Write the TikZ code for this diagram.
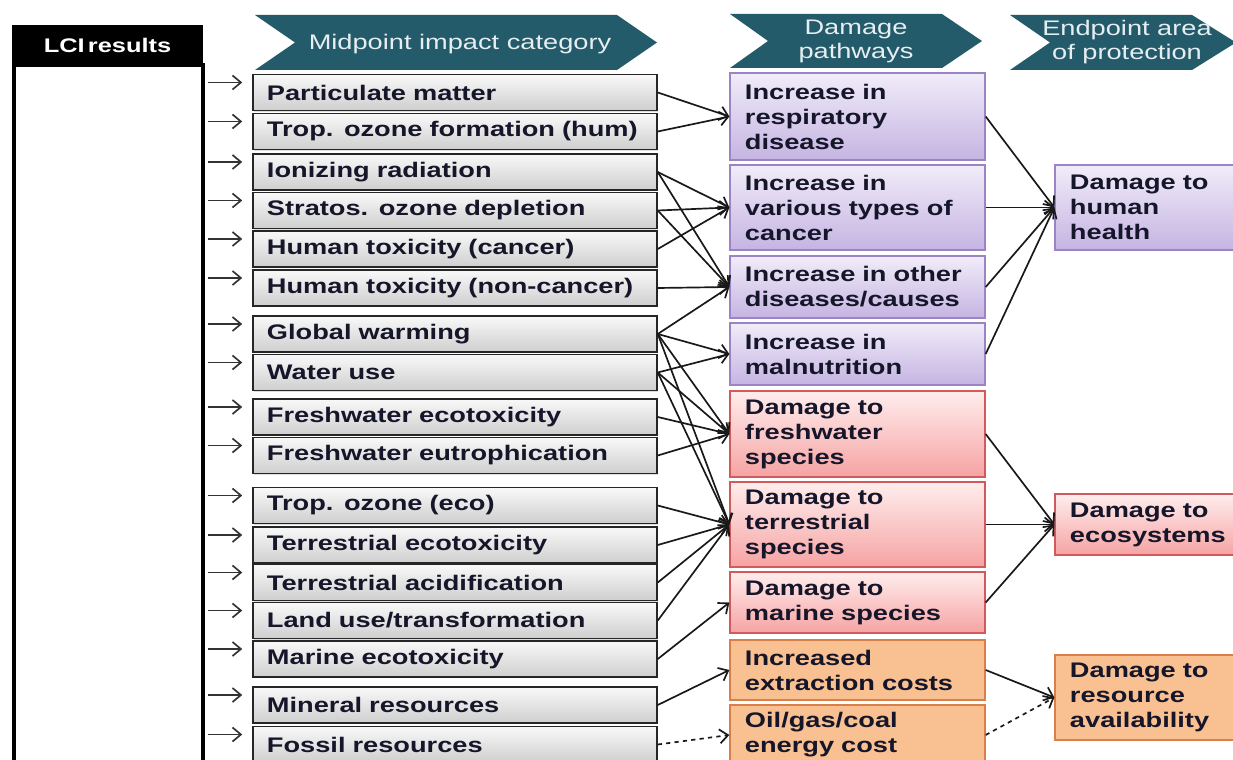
\documentclass[tikz,border=0pt]{standalone}
\usepackage{fontspec}
\setmainfont{Liberation Sans}[FakeStretch=1.29]
\usetikzlibrary{arrows.meta, calc, shadows}
\definecolor{chevfill}{HTML}{245B6B}
\definecolor{chevtext}{HTML}{E6EEF1}
\definecolor{boxtext}{HTML}{16162A}
\definecolor{purpletop}{HTML}{F1ECF9}
\definecolor{purplebot}{HTML}{C5B4E2}
\definecolor{purpleline}{HTML}{9A84C6}
\definecolor{redtop}{HTML}{FFEDED}
\definecolor{redbot}{HTML}{F6A3A3}
\definecolor{redline}{HTML}{D25A5A}
\definecolor{orangefill}{HTML}{F9C091}
\definecolor{orangeline}{HTML}{D9804A}

\begin{document}
\begin{tikzpicture}[x=0.025cm, y=-0.025cm,
  mid/.style={draw=black!85, line width=1pt, top color=gray!5, bottom color=gray!38, drop shadow={opacity=0.25, shadow xshift=1pt, shadow yshift=-1pt}, text width=9.4cm, inner xsep=0.35cm, minimum height=0.9cm, align=left, text=boxtext, font={\fontsize{15}{17.8}\selectfont\bfseries}},
  dmg/.style={line width=0.9pt, drop shadow={opacity=0.2, shadow xshift=1pt, shadow yshift=-1pt}, text width=5.625cm, inner xsep=0.375cm, align=left, text=boxtext, font={\fontsize{15}{17.8}\selectfont\bfseries}},
  hum/.style={dmg, draw=purpleline, top color=purpletop, bottom color=purplebot},
  eco/.style={dmg, draw=redline, top color=redtop, bottom color=redbot},
  res/.style={dmg, draw=orangeline, fill=orangefill},
  endp/.style={text width=3.95cm},
  head/.style={align=center, text=chevtext, font={\fontsize{15}{17}\selectfont}},
  rel/.style={-{Straight Barb[length=6pt, width=10pt]}, line width=1.2pt, draw=black!90},
  feed/.style={rel, draw=black!80}
]
\clip (0,0) rectangle (1233,760);
\fill[white] (0,0) rectangle (1233,760);

\node[fill=black, minimum width=4.775cm, minimum height=1cm, text=white, font={\fontsize{14}{14}\selectfont\bfseries}] (lcihead) at (107.5,45) {LCI\,results};
\node[draw=black, line width=3pt, fill=white, minimum width=4.725cm, minimum height=17.875cm] (lci) at (108.5,422.5) {};

\fill[chevfill] (255,15) -- (617,15) -- (657,42.5) -- (617,70) -- (255,70) -- (295,42.5) -- cycle;
\fill[chevfill] (730,14) -- (942,14) -- (982,41) -- (942,68) -- (730,68) -- (768,41) -- cycle;
\fill[chevfill] (1010,15) -- (1192,15) -- (1236,42.5) -- (1192,70) -- (1010,70) -- (1050,42.5) -- cycle;
\node[head] (hmid) at (460,44) {Midpoint impact category};
\node[head] (hdmg) at (856,41) {Damage\\pathways};
\node[head] (hend) at (1127,42) {Endpoint area\\of protection};

\node[mid] (pm) at (455,92.5) {Particulate matter};
\node[mid] (ozh) at (455,131.5) {Trop. ozone formation (hum)};
\node[mid] (ion) at (455,172) {Ionizing radiation};
\node[mid] (sod) at (455,210.5) {Stratos. ozone depletion};
\node[mid] (htc) at (455,249) {Human toxicity (cancer)};
\node[mid] (htn) at (455,288) {Human toxicity (non-cancer)};
\node[mid] (gw) at (455,334) {Global warming};
\node[mid] (wu) at (455,372.5) {Water use};
\node[mid] (fet) at (455,417) {Freshwater ecotoxicity};
\node[mid] (feu) at (455,455.5) {Freshwater eutrophication};
\node[mid] (oze) at (455,505.5) {Trop. ozone (eco)};
\node[mid] (tet) at (455,545) {Terrestrial ecotoxicity};
\node[mid] (tac) at (455,582.5) {Terrestrial acidification};
\node[mid] (lu) at (455,620.5) {Land use/transformation};
\node[mid] (met) at (455,659) {Marine ecotoxicity};
\node[mid] (mr) at (455,705) {Mineral resources};
\node[mid] (fr) at (455,744.5) {Fossil resources};

\node[hum, minimum height=2.175cm] (resp) at (857.5,116.5) {Increase in\\respiratory\\disease};
\node[hum, minimum height=2.125cm] (canc) at (857.5,207.5) {Increase in\\various types of\\cancer};
\node[hum, minimum height=1.55cm] (oth) at (857.5,287) {Increase in other\\diseases/causes};
\node[hum, minimum height=1.55cm] (maln) at (857.5,354) {Increase in\\malnutrition};
\node[eco, minimum height=2.15cm] (fws) at (857.5,434) {Damage to\\freshwater\\species};
\node[eco, minimum height=2.125cm] (trs) at (857.5,524.5) {Damage to\\terrestrial\\species};
\node[eco, minimum height=1.525cm] (mas) at (857.5,602.5) {Damage to\\marine species};
\node[res, minimum height=1.5cm] (extr) at (857.5,670) {Increased\\extraction costs};
\node[res, minimum height=1.5cm] (enc) at (857.5,735) {Oil/gas/coal\\energy cost};

\node[hum, endp, minimum height=2.125cm] (hh) at (1149,207.5) {Damage to\\human\\health};
\node[eco, endp, minimum height=1.525cm] (ecos) at (1149,524.5) {Damage to\\ecosystems};
\node[res, endp, minimum height=2.125cm] (ravail) at (1149,697.5) {Damage to\\resource\\availability};

\draw[feed] ($(lci.east |- pm)+(3,-10)$) -- ($(pm.west)+(-10,-10)$);
\draw[feed] ($(lci.east |- ozh)+(3,-10)$) -- ($(ozh.west)+(-10,-10)$);
\draw[feed] ($(lci.east |- ion)+(3,-10)$) -- ($(ion.west)+(-10,-10)$);
\draw[feed] ($(lci.east |- sod)+(3,-10)$) -- ($(sod.west)+(-10,-10)$);
\draw[feed] ($(lci.east |- htc)+(3,-10)$) -- ($(htc.west)+(-10,-10)$);
\draw[feed] ($(lci.east |- htn)+(3,-10)$) -- ($(htn.west)+(-10,-10)$);
\draw[feed] ($(lci.east |- gw)+(3,-10)$) -- ($(gw.west)+(-10,-10)$);
\draw[feed] ($(lci.east |- wu)+(3,-10)$) -- ($(wu.west)+(-10,-10)$);
\draw[feed] ($(lci.east |- fet)+(3,-10)$) -- ($(fet.west)+(-10,-10)$);
\draw[feed] ($(lci.east |- feu)+(3,-10)$) -- ($(feu.west)+(-10,-10)$);
\draw[feed] ($(lci.east |- oze)+(3,-10)$) -- ($(oze.west)+(-10,-10)$);
\draw[feed] ($(lci.east |- tet)+(3,-10)$) -- ($(tet.west)+(-10,-10)$);
\draw[feed] ($(lci.east |- tac)+(3,-10)$) -- ($(tac.west)+(-10,-10)$);
\draw[feed] ($(lci.east |- lu)+(3,-10)$) -- ($(lu.west)+(-10,-10)$);
\draw[feed] ($(lci.east |- met)+(3,-10)$) -- ($(met.west)+(-10,-10)$);
\draw[feed] ($(lci.east |- mr)+(3,-10)$) -- ($(mr.west)+(-10,-10)$);
\draw[feed] ($(lci.east |- fr)+(3,-10)$) -- ($(fr.west)+(-10,-10)$);

\draw[rel] (pm.east) -- (resp.west);
\draw[rel] (ozh.east) -- (resp.west);
\draw[rel] (ion.east) -- (canc.west);
\draw[rel] (ion.east) -- (oth.west);
\draw[rel] (sod.east) -- (canc.west);
\draw[rel] (sod.east) -- (oth.west);
\draw[rel] (htc.east) -- (canc.west);
\draw[rel] (htn.east) -- (oth.west);
\draw[rel] (gw.east) -- (oth.west);
\draw[rel] (gw.east) -- (maln.west);
\draw[rel] (gw.east) -- (fws.west);
\draw[rel] (gw.east) -- (trs.west);
\draw[rel] (wu.east) -- (maln.west);
\draw[rel] (wu.east) -- (fws.west);
\draw[rel] (wu.east) -- (trs.west);
\draw[rel] (fet.east) -- (fws.west);
\draw[rel] (feu.east) -- (fws.west);
\draw[rel] (oze.east) -- (trs.west);
\draw[rel] (tet.east) -- (trs.west);
\draw[rel] (tac.east) -- (trs.west);
\draw[rel] (lu.east) -- (trs.west);
\draw[rel] (met.east) -- (mas.west);
\draw[rel] (mr.east) -- (extr.west);
\draw[rel, dashed] (fr.east) -- (enc.west);

\draw[rel] (resp.east) -- (hh.west);
\draw[rel] (canc.east) -- (hh.west);
\draw[rel] (oth.east) -- (hh.west);
\draw[rel] (maln.east) -- (hh.west);
\draw[rel] (fws.east) -- (ecos.west);
\draw[rel] (trs.east) -- (ecos.west);
\draw[rel] (mas.east) -- (ecos.west);
\draw[rel] (extr.east) -- (ravail.west);
\draw[rel, dashed] (enc.east) -- (ravail.west);
\end{tikzpicture}
\end{document}
